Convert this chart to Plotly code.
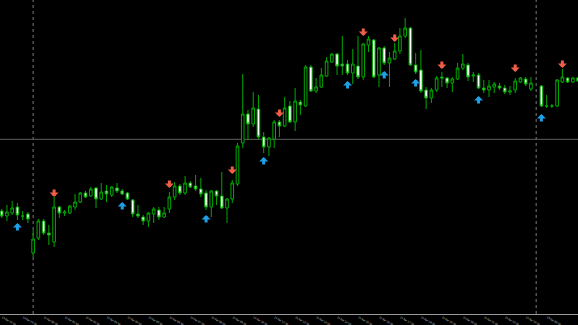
import plotly.graph_objects as go

# M15 candles (index 0..110); index 102 has no visible bar
opens = [1.4089,1.4084,1.4087,1.4093,1.4084,1.4086,1.4047,1.4062,1.4079,1.4067,
         1.4058,1.4093,1.4087,1.4087,1.4093,1.4098,1.4107,1.4104,1.4112,1.4101,
         1.4109,1.4105,1.4112,1.4109,1.4107,1.4100,1.4086,1.4083,1.4079,1.4086,
         1.4090,1.4083,1.4091,1.4103,1.4114,1.4107,1.4117,1.4114,1.4111,1.4107,
         1.4093,1.4109,1.4104,1.4092,1.4101,1.4116,1.4157,1.4186,1.4176,1.4191,
         1.4163,1.4153,1.4161,1.4178,1.4174,1.4194,1.4178,1.4198,1.4194,1.4233,
         1.4209,1.4213,1.4224,1.4238,1.4246,1.4236,1.4236,1.4227,1.4234,1.4223,
         1.4255,1.4260,1.4225,1.4252,1.4237,1.4241,1.4249,1.4264,1.4272,1.4235,
         1.4230,1.4210,1.4202,1.4210,1.4223,1.4222,1.4217,1.4221,1.4232,1.4235,
         1.4224,1.4225,1.4212,1.4210,1.4213,1.4214,1.4212,1.4208,1.4210,1.4218,
         1.4221,1.4211,None,1.4214,1.4194,1.4194,1.4194,1.4218,1.4222,1.4218,1.4222]
highs = [1.4091,1.4095,1.4099,1.4097,1.4089,1.4088,1.4070,1.4081,1.4081,1.4075,
         1.4103,1.4094,1.4090,1.4095,1.4106,1.4108,1.4109,1.4113,1.4113,1.4117,
         1.4115,1.4114,1.4117,1.4111,1.4108,1.4101,1.4095,1.4085,1.4088,1.4093,
         1.4093,1.4093,1.4108,1.4118,1.4116,1.4124,1.4119,1.4125,1.4122,1.4110,
         1.4110,1.4110,1.4128,1.4102,1.4120,1.4157,1.4226,1.4190,1.4208,1.4205,
         1.4168,1.4163,1.4180,1.4180,1.4203,1.4199,1.4212,1.4200,1.4235,1.4235,
         1.4222,1.4232,1.4243,1.4247,1.4247,1.4264,1.4240,1.4251,1.4264,1.4257,
         1.4264,1.4261,1.4253,1.4254,1.4248,1.4257,1.4272,1.4282,1.4273,1.4247,
         1.4250,1.4213,1.4212,1.4224,1.4228,1.4223,1.4223,1.4237,1.4246,1.4237,
         1.4228,1.4227,1.4220,1.4220,1.4218,1.4217,1.4215,1.4214,1.4222,1.4223,
         1.4223,1.4223,None,1.4215,1.4205,1.4196,1.4221,1.4231,1.4223,1.4223,1.4223]
lows = [1.4082,1.4079,1.4085,1.4080,1.4080,1.4077,1.4043,1.4060,1.4065,1.4055,
        1.4053,1.4082,1.4084,1.4086,1.4090,1.4097,1.4102,1.4103,1.4092,1.4100,
        1.4098,1.4103,1.4107,1.4105,1.4100,1.4083,1.4082,1.4075,1.4073,1.4077,
        1.4080,1.4082,1.4087,1.4100,1.4105,1.4105,1.4112,1.4109,1.4103,1.4090,
        1.4083,1.4095,1.4091,1.4077,1.4097,1.4114,1.4152,1.4160,1.4173,1.4161,
        1.4147,1.4144,1.4152,1.4163,1.4173,1.4177,1.4169,1.4185,1.4193,1.4208,
        1.4207,1.4212,1.4223,1.4237,1.4225,1.4225,1.4225,1.4216,1.4221,1.4220,
        1.4248,1.4222,1.4213,1.4235,1.4213,1.4240,1.4246,1.4262,1.4234,1.4226,
        1.4207,1.4191,1.4197,1.4208,1.4213,1.4212,1.4208,1.4220,1.4230,1.4219,
        1.4218,1.4211,1.4207,1.4203,1.4207,1.4210,1.4206,1.4205,1.4207,1.4217,
        1.4214,1.4209,None,1.4193,1.4192,1.4192,1.4193,1.4217,1.4217,1.4217,1.4218]
closes = [1.4084,1.4088,1.4092,1.4085,1.4084,1.4081,1.4061,1.4079,1.4067,1.4065,
          1.4093,1.4087,1.4088,1.4094,1.4098,1.4107,1.4103,1.4111,1.4101,1.4108,
          1.4106,1.4113,1.4109,1.4106,1.4101,1.4086,1.4084,1.4079,1.4087,1.4091,
          1.4083,1.4087,1.4103,1.4114,1.4107,1.4117,1.4113,1.4111,1.4106,1.4093,
          1.4109,1.4104,1.4092,1.4101,1.4117,1.4154,1.4186,1.4176,1.4192,1.4163,
          1.4153,1.4162,1.4178,1.4174,1.4192,1.4178,1.4199,1.4195,1.4233,1.4209,
          1.4213,1.4225,1.4239,1.4246,1.4234,1.4234,1.4227,1.4236,1.4223,1.4256,
          1.4261,1.4223,1.4252,1.4237,1.4242,1.4249,1.4264,1.4272,1.4235,1.4228,
          1.4209,1.4202,1.4210,1.4222,1.4222,1.4217,1.4221,1.4232,1.4236,1.4223,
          1.4225,1.4212,1.4210,1.4214,1.4216,1.4212,1.4208,1.4209,1.4219,1.4222,
          1.4216,1.4217,None,1.4194,1.4194,1.4194,1.4220,1.4223,1.4218,1.4222,1.4219]
bar_index = list(range(len(opens)))

# signal arrows (bar index, price at arrow tip)
sell_idx = [10, 32, 44, 53, 69, 75, 84, 98, 107]
sell_price = [1.4103, 1.4112, 1.4126, 1.4183, 1.4264, 1.4258, 1.4231, 1.4228, 1.4232]
buy_idx = [3, 23, 39, 50, 66, 73, 79, 91, 103]
buy_price = [1.4077, 1.4098, 1.4085, 1.4143, 1.4219, 1.4229, 1.4221, 1.4204, 1.4186]

# period separators (day starts) and horizontal line level
separator_idx = [6, 102]
hline_level = [1.41607]

tick_idx = [0, 4, 8, 12, 16, 20, 24, 28, 32, 36, 40, 44, 48, 52, 56, 60, 64, 68,
            72, 76, 80, 84, 88, 92, 96, 100, 104, 108]
tick_text = ["13 Apr 22:30", "13 Apr 23:30", "14 Apr 00:30", "14 Apr 01:30",
             "14 Apr 02:30", "14 Apr 03:30", "14 Apr 04:30", "14 Apr 05:30",
             "14 Apr 06:30", "14 Apr 07:30", "14 Apr 08:30", "14 Apr 09:30",
             "14 Apr 10:30", "14 Apr 11:30", "14 Apr 12:30", "14 Apr 13:30",
             "14 Apr 14:30", "14 Apr 15:30", "14 Apr 16:30", "14 Apr 17:30",
             "14 Apr 18:30", "14 Apr 19:30", "14 Apr 20:30", "14 Apr 21:30",
             "14 Apr 22:30", "14 Apr 23:30", "15 Apr 00:30", "15 Apr 01:30"]

GREEN = "#00a800"
RED = "#ee5e48"
BLUE = "#1e9fe6"
GRID = "#7a7a7a"

fig = go.Figure()
fig.add_trace(go.Candlestick(
    x=bar_index, open=opens, high=highs, low=lows, close=closes,
    increasing=dict(line=dict(color=GREEN, width=1), fillcolor="#000000"),
    decreasing=dict(line=dict(color=GREEN, width=1), fillcolor="#ffffff"),
    whiskerwidth=0, hoverinfo="skip", showlegend=False,
))

for s in separator_idx:
    fig.add_shape(type="line", xref="x", yref="paper", x0=s, x1=s, y0=0, y1=1,
                  line=dict(color=GRID, width=1, dash="dot"), layer="below")
for h in hline_level:
    fig.add_shape(type="line", xref="paper", yref="y", x0=0, x1=1, y0=h, y1=h,
                  line=dict(color="#606060", width=1), layer="below")

for i, p in zip(sell_idx, sell_price):
    fig.add_annotation(x=i, y=p, ax=0, ay=-9, text="", showarrow=True,
                       arrowhead=1, arrowsize=0.5, arrowwidth=3, arrowcolor=RED,
                       standoff=0)
for i, p in zip(buy_idx, buy_price):
    fig.add_annotation(x=i, y=p, ax=0, ay=9, text="", showarrow=True,
                       arrowhead=1, arrowsize=0.5, arrowwidth=3, arrowcolor=BLUE,
                       standoff=0)

fig.update_layout(
    width=578, height=325,
    margin=dict(l=0, r=0, t=0, b=11),
    paper_bgcolor="#000000", plot_bgcolor="#000000",
    showlegend=False,
    boxgap=0.28,
    xaxis=dict(range=[-0.324, 109.98], rangeslider=dict(visible=False),
               automargin=False,
               showgrid=False, zeroline=False,
               tickmode="array", tickvals=tick_idx, ticktext=tick_text,
               ticklabelposition="outside right",
               tickfont=dict(family="DejaVu Sans", size=2.4, color="#d8d8d8"),
               ticks="", ticklabelstandoff=0,
               showline=True, linecolor="#9a9a9a", linewidth=1),
    yaxis=dict(range=[1.3986, 1.4300], visible=False, fixedrange=True,
               automargin=False),
)

fig.write_html("out.html")
